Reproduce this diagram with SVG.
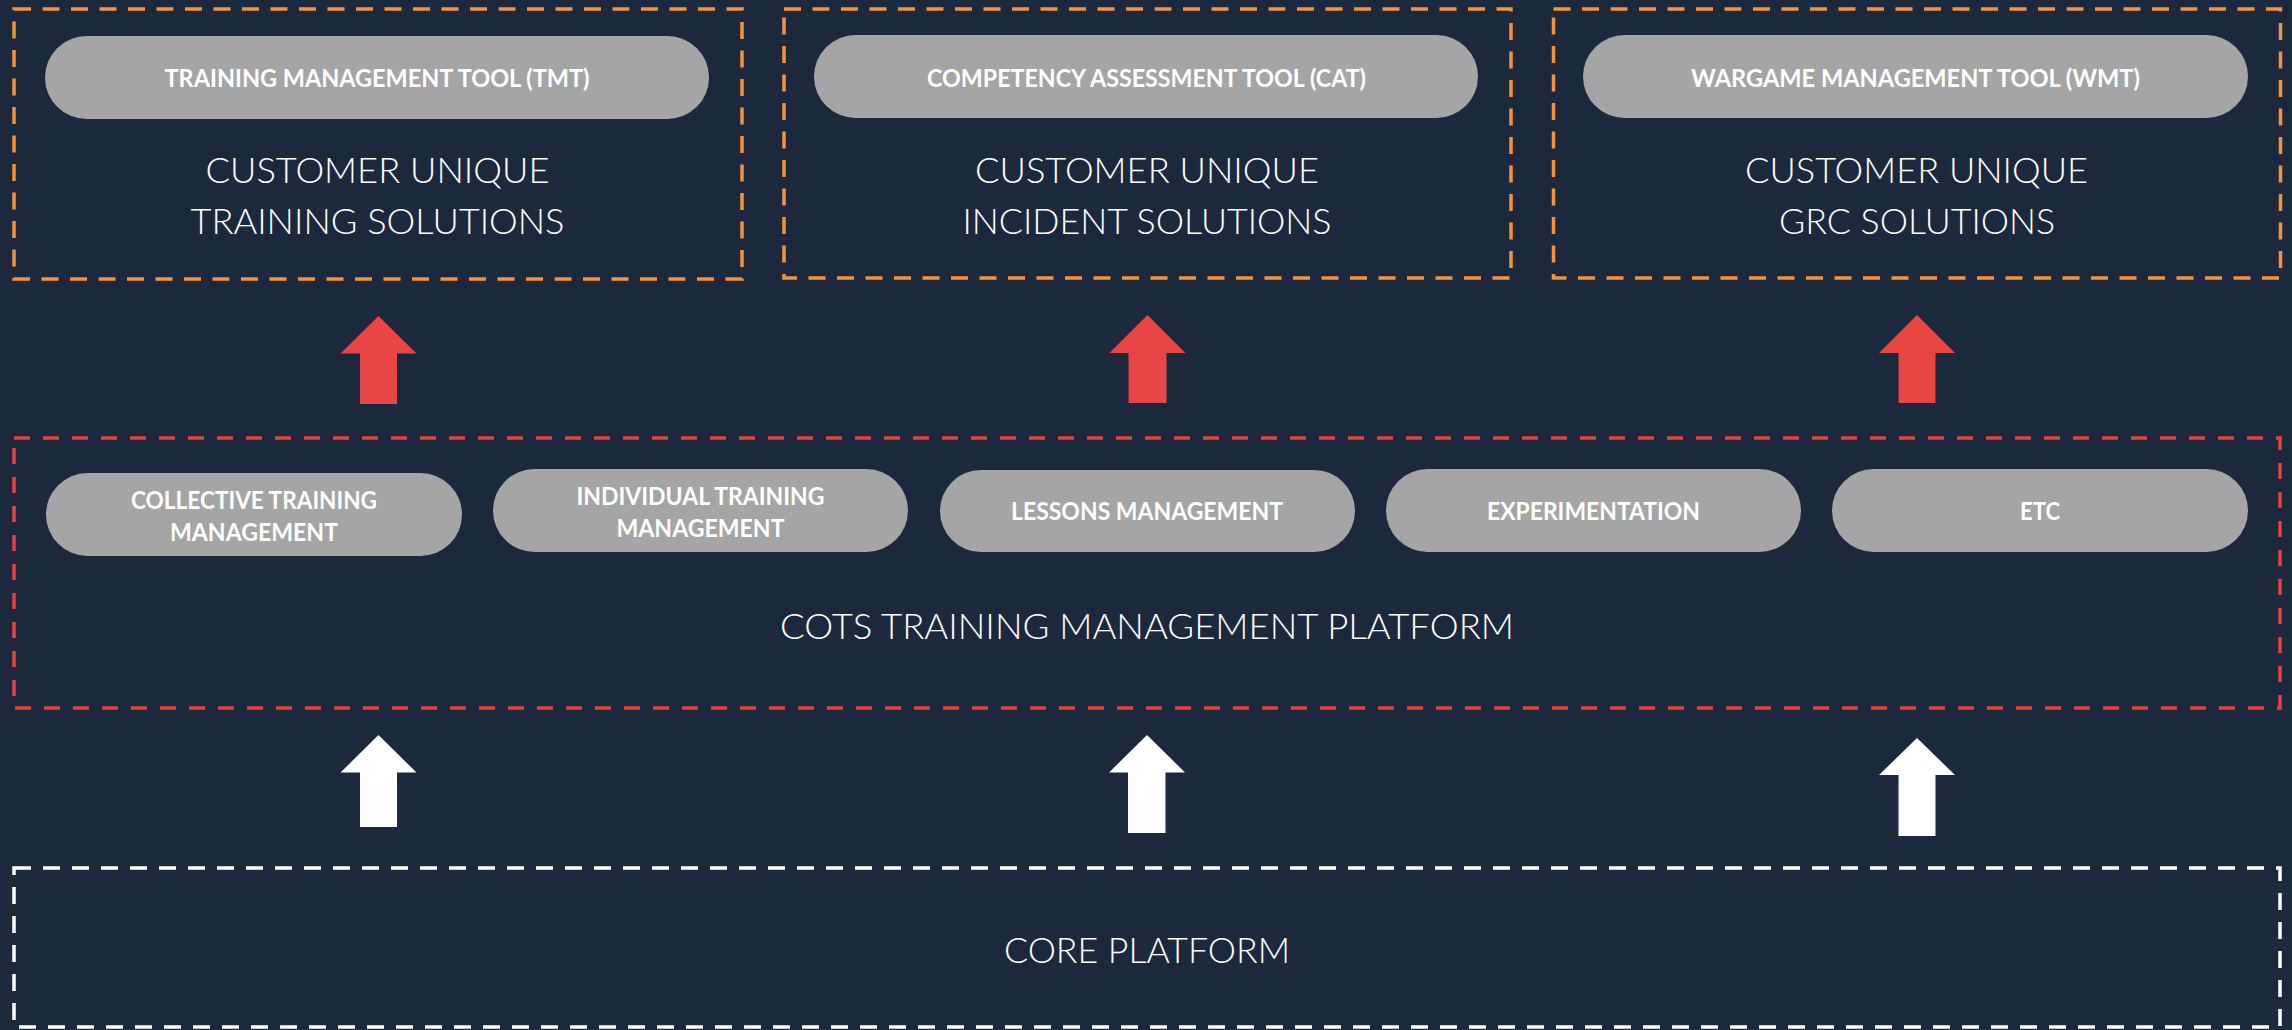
<svg xmlns="http://www.w3.org/2000/svg" width="2292" height="1030" viewBox="0 0 2292 1030">
<style>
.bg{fill:#1c293d}
.obox{fill:none;stroke:#f7923a;stroke-width:3.5;stroke-dasharray:17 11.5}
.rbox{fill:none;stroke:#e8403f;stroke-width:3.5;stroke-dasharray:16 13}
.wbox{fill:none;stroke:#ffffff;stroke-width:3.5;stroke-dasharray:17 12}
.pill{fill:#a5a5a5}
.pt{font-family:Lato,"Open Sans","Liberation Sans",sans-serif;font-weight:700;font-size:24px;fill:#ffffff;text-anchor:middle}
.big{font-family:Lato,"Open Sans","Liberation Sans",sans-serif;font-weight:300;font-size:36px;fill:#ffffff;text-anchor:middle}
.ra{fill:#e84545}
.wa{fill:#ffffff}
</style>
<rect class="bg" x="0" y="0" width="2292" height="1030"/>

<g id="training-solutions">
<rect class="obox" x="14" y="9" width="728" height="270"/>
<rect class="pill" x="45" y="36" width="664" height="83" rx="41.5"/>
<text class="pt" x="377" y="87" textLength="425" lengthAdjust="spacingAndGlyphs">TRAINING MANAGEMENT TOOL (TMT)</text>
<text class="big" x="377.5" y="183" textLength="344" lengthAdjust="spacingAndGlyphs">CUSTOMER UNIQUE</text>
<text class="big" x="377.5" y="234" textLength="374" lengthAdjust="spacingAndGlyphs">TRAINING SOLUTIONS</text>
</g>

<g id="incident-solutions">
<rect class="obox" x="784" y="9" width="727" height="269"/>
<rect class="pill" x="814" y="35" width="664" height="83" rx="41.5"/>
<text class="pt" x="1146.5" y="87" textLength="439" lengthAdjust="spacingAndGlyphs">COMPETENCY ASSESSMENT TOOL (CAT)</text>
<text class="big" x="1147" y="183" textLength="344" lengthAdjust="spacingAndGlyphs">CUSTOMER UNIQUE</text>
<text class="big" x="1147" y="234" textLength="369" lengthAdjust="spacingAndGlyphs">INCIDENT SOLUTIONS</text>
</g>

<g id="grc-solutions">
<rect class="obox" x="1553.5" y="9" width="727" height="269"/>
<rect class="pill" x="1583" y="35" width="665" height="83" rx="41.5"/>
<text class="pt" x="1915.5" y="87" textLength="449" lengthAdjust="spacingAndGlyphs">WARGAME MANAGEMENT TOOL (WMT)</text>
<text class="big" x="1916.5" y="183" textLength="343" lengthAdjust="spacingAndGlyphs">CUSTOMER UNIQUE</text>
<text class="big" x="1917" y="234" textLength="276" lengthAdjust="spacingAndGlyphs">GRC SOLUTIONS</text>
</g>

<g id="cots-platform">
<rect class="rbox" x="14" y="438" width="2266" height="270"/>
<text class="big" x="1147" y="639" textLength="734" lengthAdjust="spacingAndGlyphs">COTS TRAINING MANAGEMENT PLATFORM</text>
</g>

<g id="collective-training">
<rect class="pill" x="46" y="473" width="416" height="83" rx="41.5"/>
<text class="pt" x="254" y="509" textLength="246" lengthAdjust="spacingAndGlyphs">COLLECTIVE TRAINING</text>
<text class="pt" x="254" y="540.5" textLength="168" lengthAdjust="spacingAndGlyphs">MANAGEMENT</text>
</g>

<g id="individual-training">
<rect class="pill" x="493" y="469" width="415" height="83" rx="41.5"/>
<text class="pt" x="700.5" y="505" textLength="248" lengthAdjust="spacingAndGlyphs">INDIVIDUAL TRAINING</text>
<text class="pt" x="700.5" y="536.5" textLength="168" lengthAdjust="spacingAndGlyphs">MANAGEMENT</text>
</g>

<g id="lessons-management">
<rect class="pill" x="940" y="470" width="415" height="82" rx="41"/>
<text class="pt" x="1147" y="520" textLength="272" lengthAdjust="spacingAndGlyphs">LESSONS MANAGEMENT</text>
</g>

<g id="experimentation">
<rect class="pill" x="1386" y="469" width="415" height="83" rx="41.5"/>
<text class="pt" x="1593.5" y="520" textLength="213" lengthAdjust="spacingAndGlyphs">EXPERIMENTATION</text>
</g>

<g id="etc">
<rect class="pill" x="1832" y="469" width="416" height="83" rx="41.5"/>
<text class="pt" x="2040" y="520" textLength="40" lengthAdjust="spacingAndGlyphs">ETC</text>
</g>

<g id="core-platform">
<rect class="wbox" x="14" y="868" width="2266" height="159"/>
<text class="big" x="1147" y="963" textLength="286" lengthAdjust="spacingAndGlyphs">CORE PLATFORM</text>
</g>

<g id="connectors">
<polygon class="ra" points="378.5,316 416.5,353.5 397,353.5 397,404 360,404 360,353.5 340.5,353.5"/>
<polygon class="ra" points="1147.5,315 1185.5,353 1166.5,353 1166.5,403 1128.5,403 1128.5,353 1109.5,353"/>
<polygon class="ra" points="1917,315 1955,353 1935.5,353 1935.5,403 1898.5,403 1898.5,353 1879,353"/>
<polygon class="wa" points="378.5,735 416.5,772.5 397,772.5 397,827 360,827 360,772.5 340.5,772.5"/>
<polygon class="wa" points="1147,735 1185,772.5 1165.5,772.5 1165.5,833 1128,833 1128,772.5 1109,772.5"/>
<polygon class="wa" points="1917,738 1955,775 1935.5,775 1935.5,836 1898.5,836 1898.5,775 1879,775"/>
</g>
</svg>
